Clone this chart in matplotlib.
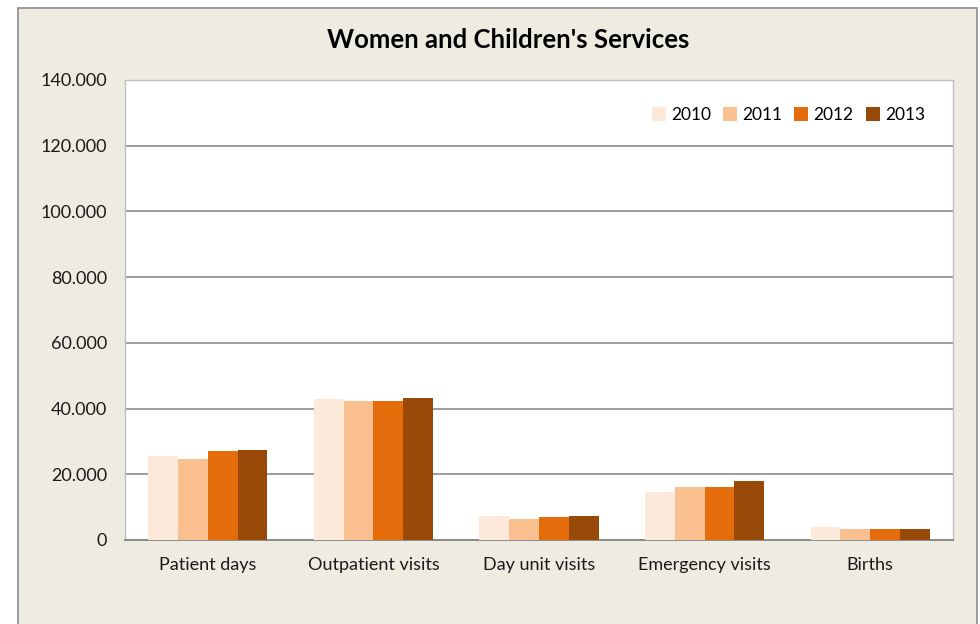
import matplotlib.pyplot as plt
import numpy as np
from matplotlib.patches import Rectangle
from matplotlib.ticker import FuncFormatter

# 데이터
categories = ["Patient days", "Outpatient visits", "Day unit visits", "Emergency visits", "Births"]
years = ["2010", "2011", "2012", "2013"]
v2010 = [25600, 42800, 7300, 14700, 3900]
v2011 = [24600, 42400, 6500, 16000, 3300]
v2012 = [27000, 42400, 7000, 16000, 3300]
v2013 = [27400, 43300, 7400, 17900, 3300]
colors = ["#FDE9D9", "#FAC090", "#E46C0A", "#984807"]

plt.rcParams['font.family'] = ['Lato', 'DejaVu Sans']

fig = plt.figure(figsize=(9.8, 6.24), dpi=100)
fig.patch.set_facecolor("white")
# 바깥 차트 영역
fig.patches.append(Rectangle((18/980, -0.01), (977-18)/980, (624-8)/624 + 0.01,
                             transform=fig.transFigure, facecolor="#EEECE1",
                             edgecolor="#8C8C8C", linewidth=1.2, zorder=0))

ax = fig.add_axes([125/980, (624-540)/624, (953-125)/980, (540-80)/624])
ax.set_zorder(2)
ax.set_facecolor("white")

x = np.arange(len(categories))
w = 0.18
series = [v2010, v2011, v2012, v2013]
for i, (vals, c, yr) in enumerate(zip(series, colors, years)):
    ax.bar(x + (i - 1.5) * w, vals, width=w, color=c, label=yr, zorder=3)

ax.set_xlim(-0.5, len(categories) - 0.5)
ax.set_ylim(0, 140000)
ax.set_yticks(np.arange(0, 140001, 20000))
ax.yaxis.set_major_formatter(FuncFormatter(lambda v, p: "0" if v == 0 else f"{int(v):,}".replace(",", ".")))
ax.set_xticks(x)
ax.set_xticklabels(categories)
ax.tick_params(axis="both", length=0, labelsize=13, colors="#1a1a1a")
ax.tick_params(axis="x", pad=12)
ax.tick_params(axis="y", pad=13)
for lbl in ax.get_yticklabels():
    lbl.set_va("center_baseline")
ax.grid(axis="y", color="#8C8C8C", linewidth=1.2, zorder=1)
ax.set_axisbelow(True)
for s in ax.spines.values():
    s.set_color("#BFBFBF")
    s.set_linewidth(1)
ax.spines["bottom"].set_color("#8C8C8C")
ax.spines["bottom"].set_linewidth(1.4)

fig.text(508/980, (624-40)/624, "Women and Children's Services", ha="center", va="center",
         fontsize=18.5, fontweight="bold", zorder=3)

ax.legend(loc="upper right", bbox_to_anchor=(0.985, 0.975), ncol=4, frameon=False,
          fontsize=12.5, handlelength=0.8, handleheight=0.8, handletextpad=0.3, columnspacing=0.7)

fig.savefig("out.png", dpi=100)
